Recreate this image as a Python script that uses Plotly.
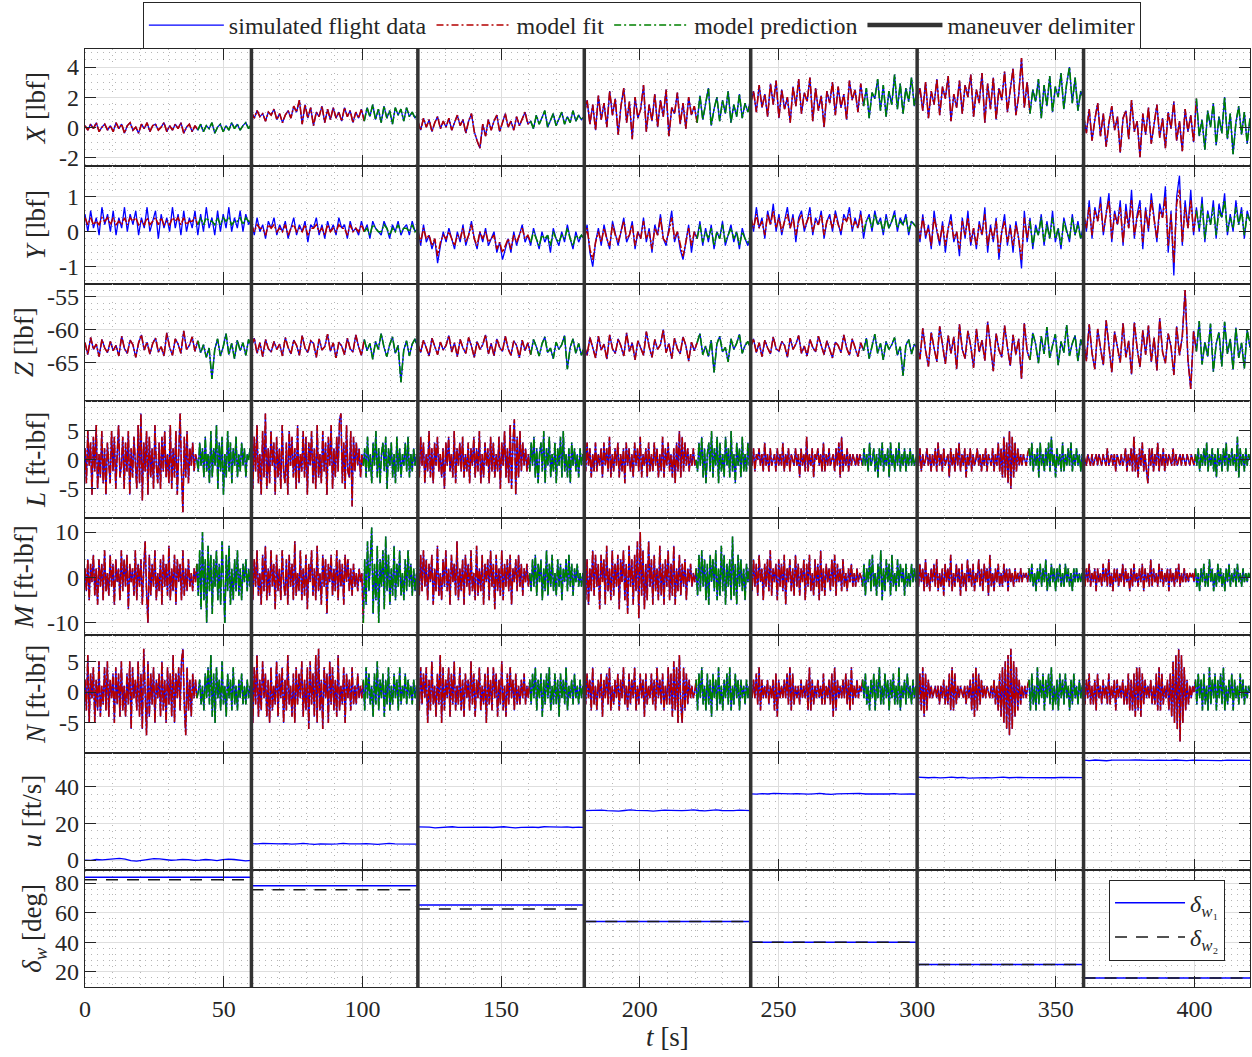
import numpy as np
import plotly.graph_objects as go
from plotly.subplots import make_subplots

# ---------------------------------------------------------------------------
# Maneuver layout: seven 60 s maneuvers, first 40 s of each used for the fit,
# the remaining 20 s used to check the model prediction.
# ---------------------------------------------------------------------------
seg_edges = [0, 60, 120, 180, 240, 300, 360, 420]
fit_span = 40.0

# Forces [lbf] per maneuver, 1 s samples
X_data = [
    [0.1, -0.2, 0.2, -0.1, 0.3, -0.3, 0.0, 0.2, -0.2, 0.1, -0.3, 0.3, -0.1, 0.2, -0.4, 0.1, 0.3, -0.2, 0.0, -0.4, 0.2, -0.1, 0.3, -0.3, 0.1, 0.2, -0.2, 0.0, 0.3, -0.3, 0.1, -0.2, 0.2, -0.1, 0.3, -0.4, 0.0, 0.2, -0.3, 0.1, -0.2, 0.2, -0.3, 0.1, -0.1, 0.3, -0.4, 0.0, 0.2, -0.3, 0.1, -0.2, 0.3, -0.1, 0.2, -0.2, 0.1, 0.3, -0.1, 0.2],
    [1.0, 0.6, 1.1, 0.7, 0.9, 0.4, 1.0, 0.8, 1.2, 0.5, 0.9, 0.3, 0.8, 1.1, 0.6, 1.4, 1.0, 1.8, 0.2, 1.5, 0.6, 1.3, 0.1, 1.0, 0.7, 1.4, 0.3, 1.2, 0.5, 1.3, 0.6, 1.0, 0.4, 1.3, 0.7, 1.1, 0.3, 1.0, 0.6, 1.2, 0.4, 1.3, 0.7, 1.5, 0.5, 1.2, 0.3, 1.4, 0.6, 1.1, 0.2, 1.3, 0.8, 1.2, 0.4, 1.3, 0.7, 1.0, 0.6, 0.9],
    [0.4, -0.2, 0.6, 0.0, 0.5, -0.3, 0.3, 0.7, -0.1, 0.4, 0.0, 0.6, -0.2, 0.3, 0.8, 0.1, 0.5, -0.4, 0.4, 0.9, -0.3, -0.9, -1.4, 0.2, -0.6, 0.5, -0.2, 0.4, 0.8, -0.3, 0.3, 0.9, 0.0, 0.4, -0.2, 0.7, 0.1, 0.5, 1.0, 0.2, 0.4, -0.1, 0.8, 0.2, 0.6, 1.1, 0.0, 0.5, 0.9, 0.1, 0.6, 1.0, 0.2, 0.7, 0.3, 1.1, 0.4, 0.8, 0.5, 0.7],
    [0.9, 1.8, 0.2, 1.5, -0.2, 2.1, 0.5, 1.6, 0.0, 2.4, 0.8, 1.9, -0.5, 1.4, 2.6, 0.3, 1.7, -0.8, 2.0, 0.6, 1.2, 2.8, -0.3, 1.5, 0.4, 2.2, 0.0, 1.8, 0.7, 2.5, -0.6, 1.3, 0.9, 2.3, 0.2, 1.6, -0.1, 2.0, 0.8, 1.4, 0.3, 2.1, 0.5, 1.7, 2.6, 0.1, 1.2, 2.0, 0.4, 1.8, 0.9, 2.4, 0.3, 1.5, 0.7, 2.2, 0.6, 1.6, 1.0, 1.9],
    [1.6, 2.4, 1.0, 2.8, 1.3, 2.2, 0.7, 2.9, 1.5, 3.1, 0.6, 2.5, 1.2, 2.0, 0.3, 2.7, 1.4, 3.2, 0.9, 2.3, 1.7, 3.3, 0.4, 2.6, 1.1, 2.1, 0.0, 2.4, 1.6, 3.0, 0.8, 2.7, 1.3, 2.2, 0.5, 3.1, 1.8, 2.5, 1.0, 2.9, 1.4, 2.6, 0.6, 2.3, 1.9, 3.2, 1.1, 2.8, 0.7, 2.4, 1.5, 3.5, 1.2, 2.9, 0.9, 2.6, 1.7, 3.3, 1.4, 2.5],
    [1.8, 2.6, 1.1, 3.0, 0.6, 2.4, 1.5, 3.2, 0.8, 2.7, 1.9, 3.4, 0.4, 2.2, 1.3, 3.1, 0.9, 2.8, 2.0, 3.5, 0.7, 2.5, 1.6, 3.6, 0.3, 2.9, 1.2, 3.3, 0.5, 2.6, 1.8, 3.7, 1.0, 2.4, 3.9, 0.8, 2.1, 4.6, 1.3, 3.0, 0.9, 2.5, 1.7, 3.2, 0.6, 2.8, 1.4, 3.4, 1.0, 2.7, 2.0, 3.6, 1.2, 2.9, 4.0, 1.6, 3.3, 1.1, 2.4, 1.9],
    [0.8, -0.4, 1.2, -0.9, 0.5, 1.6, -0.6, 0.9, -1.3, 0.3, 1.4, -0.2, 0.7, -1.7, 0.6, 1.1, -0.8, 1.8, -0.3, 0.4, -2.0, 0.9, -0.5, 1.3, -1.1, 0.2, 1.5, -0.7, 0.6, -1.4, 1.0, -0.1, 1.7, -0.9, 0.4, -1.6, 1.2, -0.3, 0.8, -1.0, 1.9, -0.6, 0.5, -1.5, 1.1, 0.0, 1.6, -1.2, 0.7, -0.4, 2.0, -0.8, 0.9, -1.8, 0.3, 1.4, -0.5, 1.0, -1.1, 0.6],
]

Y_data = [
    [0.5, 0.0, 0.6, 0.1, 0.4, -0.1, 0.7, 0.2, 0.5, 0.0, 0.6, -0.1, 0.4, 0.1, 0.7, 0.0, 0.5, 0.2, 0.6, -0.1, 0.4, 0.1, 0.7, 0.0, 0.3, 0.6, -0.2, 0.5, 0.1, 0.4, 0.0, 0.7, 0.1, 0.5, -0.1, 0.6, 0.0, 0.4, 0.1, 0.6, -0.1, 0.5, 0.0, 0.7, 0.1, 0.4, -0.1, 0.6, 0.0, 0.5, 0.1, 0.7, 0.0, 0.4, 0.1, 0.6, 0.0, 0.5, 0.2, 0.4],
    [0.3, -0.1, 0.4, 0.0, 0.2, -0.2, 0.3, 0.1, 0.4, -0.1, 0.2, 0.0, 0.3, -0.2, 0.1, 0.4, -0.1, 0.2, 0.0, 0.3, -0.3, 0.2, 0.1, 0.4, -0.1, 0.2, -0.2, 0.3, 0.0, 0.2, -0.1, 0.4, 0.1, 0.2, -0.2, 0.3, 0.0, 0.1, -0.1, 0.3, 0.0, 0.2, -0.2, 0.3, 0.1, 0.0, -0.1, 0.3, 0.1, -0.2, 0.2, 0.0, 0.3, -0.1, 0.1, 0.2, -0.1, 0.3, 0.0, 0.1],
    [0.1, -0.4, 0.2, -0.3, -0.1, -0.5, -0.2, -0.9, -0.4, 0.0, -0.3, 0.1, -0.2, -0.5, 0.0, -0.3, 0.2, -0.4, -0.1, 0.3, -0.2, -0.5, 0.0, -0.3, 0.1, -0.4, -0.2, 0.0, -0.6, -0.3, -0.8, -0.5, -0.2, -0.6, 0.0, -0.4, -0.1, 0.2, -0.3, -0.1, -0.4, 0.1, -0.2, -0.5, 0.0, -0.3, -0.1, -0.6, 0.1, -0.2, -0.4, 0.0, -0.3, 0.2, -0.2, -0.5, 0.0, -0.3, -0.1, -0.2],
    [-0.2, 0.2, -0.6, -1.0, -0.3, 0.1, -0.4, 0.2, -0.2, -0.5, 0.3, -0.1, -0.4, 0.0, 0.4, -0.3, -0.1, 0.3, -0.5, 0.0, -0.2, 0.4, -0.3, 0.1, -0.6, 0.2, -0.1, 0.5, -0.2, -0.4, 0.1, 0.6, -0.3, 0.0, -0.5, -0.8, -0.3, 0.2, -0.6, 0.0, -0.2, 0.3, -0.4, 0.1, -0.3, 0.2, -0.5, 0.0, -0.2, 0.3, -0.4, -0.1, 0.2, -0.3, 0.0, -0.5, 0.1, -0.2, -0.4, -0.1],
    [0.5, 0.0, 0.7, 0.1, 0.4, -0.2, 0.6, 0.2, 0.8, 0.0, 0.5, -0.1, 0.3, 0.7, 0.1, 0.5, -0.3, 0.4, 0.6, 0.0, 0.3, 0.7, -0.1, 0.4, 0.2, 0.6, -0.2, 0.3, 0.5, 0.0, 0.6, 0.2, -0.1, 0.5, 0.3, 0.7, 0.0, 0.4, 0.1, 0.6, -0.2, 0.3, 0.5, 0.0, 0.6, 0.2, 0.4, -0.1, 0.5, 0.1, 0.3, 0.6, 0.0, 0.4, 0.2, 0.5, -0.1, 0.3, 0.2, 0.1],
    [0.4, -0.3, 0.5, -0.2, 0.2, -0.5, 0.6, 0.0, -0.4, 0.3, -0.6, 0.1, 0.5, -0.3, 0.0, -0.7, 0.4, -0.2, 0.6, -0.4, 0.1, -0.5, 0.3, -0.1, 0.7, -0.6, 0.2, -0.3, 0.4, -0.8, 0.0, 0.5, -0.4, 0.2, -0.6, 0.3, -0.2, -1.05, 0.6, -0.3, 0.4, -0.5, 0.2, -0.1, 0.5, -0.4, 0.3, -0.2, 0.6, -0.3, 0.1, -0.5, 0.4, 0.0, -0.3, 0.5, -0.1, 0.3, -0.2, 0.2],
    [0.6, 0.0, 0.9, -0.2, 0.7, 0.3, 1.0, -0.1, 0.5, 1.1, -0.3, 0.6, 0.2, 0.9, -0.4, 0.8, 0.1, 1.2, -0.2, 0.5, 0.9, -0.5, 0.7, 0.0, 1.1, 0.3, -0.3, 0.8, 0.4, 1.3, -0.6, 0.6, -1.25, 1.0, 1.6, -0.4, 0.9, 0.1, 1.2, -0.1, 0.7, 0.0, 1.0, -0.3, 0.6, 0.2, 0.9, -0.2, 0.8, 0.4, 1.1, -0.1, 0.5, 0.0, 0.9, 0.2, 0.7, -0.2, 0.6, 0.3],
]

# Side-force model output (smaller excursions than the measured record)
Y_model = [
    [0.4, 0.2, 0.4, 0.2, 0.3, 0.2, 0.4, 0.3, 0.4, 0.2, 0.4, 0.2, 0.3, 0.2, 0.4, 0.2, 0.4, 0.3, 0.4, 0.2, 0.3, 0.2, 0.4, 0.2, 0.3, 0.4, 0.2, 0.4, 0.2, 0.3, 0.2, 0.4, 0.3, 0.4, 0.2, 0.4, 0.2, 0.3, 0.3, 0.4, 0.2, 0.4, 0.2, 0.4, 0.3, 0.3, 0.2, 0.4, 0.2, 0.4, 0.3, 0.4, 0.2, 0.3, 0.3, 0.4, 0.2, 0.4, 0.3, 0.3],
    [0.2, 0.0, 0.2, 0.1, 0.1, -0.1, 0.2, 0.1, 0.2, 0.0, 0.1, 0.0, 0.2, -0.1, 0.1, 0.2, 0.0, 0.1, 0.0, 0.2, -0.1, 0.1, 0.1, 0.2, 0.0, 0.1, -0.1, 0.2, 0.0, 0.1, 0.0, 0.2, 0.1, 0.1, -0.1, 0.2, 0.0, 0.1, 0.0, 0.2, 0.0, 0.1, -0.1, 0.2, 0.1, 0.0, 0.0, 0.2, 0.1, -0.1, 0.1, 0.0, 0.2, 0.0, 0.1, 0.1, 0.0, 0.2, 0.0, 0.1],
    [0.0, -0.3, 0.1, -0.2, -0.1, -0.4, -0.2, -0.7, -0.3, -0.1, -0.2, 0.0, -0.2, -0.4, -0.1, -0.2, 0.1, -0.3, -0.1, 0.2, -0.2, -0.4, 0.0, -0.2, 0.0, -0.3, -0.2, -0.1, -0.5, -0.3, -0.6, -0.4, -0.2, -0.5, -0.1, -0.3, -0.1, 0.1, -0.2, -0.1, -0.3, 0.0, -0.2, -0.4, -0.1, -0.2, -0.1, -0.4, 0.0, -0.2, -0.3, -0.1, -0.2, 0.1, -0.2, -0.4, -0.1, -0.2, -0.1, -0.2],
    [-0.2, 0.1, -0.5, -0.8, -0.3, 0.0, -0.3, 0.1, -0.2, -0.4, 0.2, -0.1, -0.3, 0.0, 0.3, -0.2, -0.1, 0.2, -0.4, 0.0, -0.2, 0.3, -0.2, 0.0, -0.5, 0.1, -0.1, 0.4, -0.2, -0.3, 0.0, 0.4, -0.2, 0.0, -0.4, -0.7, -0.3, 0.1, -0.4, 0.0, -0.2, 0.2, -0.3, 0.0, -0.2, 0.1, -0.4, 0.0, -0.2, 0.2, -0.3, -0.1, 0.1, -0.2, 0.0, -0.4, 0.0, -0.2, -0.3, -0.1],
    [0.4, 0.1, 0.5, 0.1, 0.3, -0.1, 0.5, 0.2, 0.6, 0.1, 0.4, 0.0, 0.3, 0.5, 0.1, 0.4, -0.1, 0.3, 0.5, 0.1, 0.3, 0.5, 0.0, 0.3, 0.2, 0.5, -0.1, 0.3, 0.4, 0.1, 0.5, 0.2, 0.0, 0.4, 0.3, 0.5, 0.1, 0.3, 0.1, 0.5, 0.0, 0.3, 0.4, 0.1, 0.5, 0.2, 0.3, 0.0, 0.4, 0.1, 0.3, 0.5, 0.1, 0.3, 0.2, 0.4, 0.0, 0.3, 0.2, 0.1],
    [0.3, -0.2, 0.4, -0.1, 0.1, -0.4, 0.4, 0.0, -0.3, 0.2, -0.4, 0.1, 0.3, -0.2, 0.0, -0.5, 0.3, -0.1, 0.4, -0.3, 0.1, -0.4, 0.2, -0.1, 0.5, -0.4, 0.1, -0.2, 0.3, -0.6, 0.0, 0.3, -0.3, 0.1, -0.4, 0.2, -0.2, -0.8, 0.4, -0.2, 0.3, -0.4, 0.1, -0.1, 0.4, -0.3, 0.2, -0.2, 0.4, -0.2, 0.1, -0.4, 0.3, 0.0, -0.2, 0.4, -0.1, 0.2, -0.2, 0.1],
    [0.5, 0.1, 0.7, -0.1, 0.6, 0.3, 0.8, 0.0, 0.5, 0.9, -0.2, 0.5, 0.2, 0.7, -0.3, 0.6, 0.1, 0.9, -0.1, 0.4, 0.7, -0.3, 0.6, 0.1, 0.9, 0.3, -0.2, 0.6, 0.4, 1.0, -0.4, 0.5, -0.9, 0.8, 1.2, -0.3, 0.7, 0.1, 0.9, 0.0, 0.6, 0.1, 0.8, -0.2, 0.5, 0.2, 0.7, -0.1, 0.6, 0.4, 0.9, 0.0, 0.4, 0.1, 0.7, 0.2, 0.6, -0.1, 0.5, 0.3],
]

Z_data = [
    [-62.0, -63.8, -61.2, -63.0, -62.2, -64.1, -61.5, -62.8, -63.5, -61.8, -63.2, -62.4, -64.0, -61.0, -62.9, -63.6, -61.6, -62.3, -64.2, -62.0, -60.8, -63.1, -61.9, -63.7, -62.1, -61.3, -63.4, -62.6, -64.0, -60.5, -62.7, -63.9, -61.4, -62.2, -63.6, -60.2, -63.0, -62.4, -61.1, -63.3, -61.7, -63.5, -62.3, -64.2, -62.8, -67.5, -63.0, -61.4, -64.0, -62.6, -60.6, -63.8, -62.1, -64.4, -61.6, -63.2, -62.0, -63.9, -61.5, -62.7],
    [-62.5, -61.3, -63.6, -62.0, -64.1, -61.5, -62.9, -63.4, -61.8, -63.0, -62.2, -64.0, -61.2, -62.7, -63.7, -61.6, -62.4, -63.9, -60.9, -62.8, -63.5, -61.7, -62.1, -64.2, -61.4, -63.1, -62.6, -60.7, -63.3, -62.0, -64.3, -61.9, -62.5, -63.8, -61.3, -62.9, -63.4, -60.8, -62.6, -63.9, -61.5, -63.2, -62.1, -64.5, -61.8, -63.0, -60.6, -62.7, -64.1, -62.3, -61.1, -63.6, -62.4, -68.0, -63.1, -61.7, -64.0, -62.2, -61.4, -62.9],
    [-62.2, -63.5, -61.6, -62.9, -64.0, -61.3, -62.6, -63.8, -61.9, -63.1, -62.4, -60.9, -63.4, -62.0, -64.1, -61.5, -62.8, -63.6, -61.2, -62.5, -64.2, -61.8, -63.0, -62.3, -60.8, -63.7, -62.1, -64.0, -61.4, -62.7, -63.3, -61.0, -62.9, -63.9, -61.7, -62.4, -64.3, -61.6, -63.2, -62.0, -63.8, -61.5, -62.6, -64.0, -62.2, -61.1, -63.5, -62.8, -64.4, -61.9, -63.0, -62.3, -60.9, -66.0, -62.7, -61.4, -63.6, -62.1, -63.9, -62.5],
    [-62.4, -63.9, -61.2, -62.7, -64.3, -61.0, -63.1, -62.2, -64.5, -60.8, -62.9, -63.6, -61.4, -62.5, -64.0, -60.5, -63.3, -62.0, -64.6, -61.7, -62.8, -63.9, -60.3, -62.6, -64.2, -61.5, -63.0, -62.3, -60.0, -63.5, -62.1, -64.4, -61.3, -62.9, -63.7, -61.1, -62.4, -64.8, -61.9, -63.2, -62.0, -60.6, -63.8, -62.5, -64.1, -61.6, -66.5, -62.2, -61.0, -63.4, -62.7, -64.9, -61.4, -63.0, -62.1, -60.7, -63.6, -62.4, -61.8, -62.9],
    [-62.6, -61.4, -63.5, -62.0, -64.1, -61.6, -62.8, -63.7, -61.1, -62.9, -63.3, -61.8, -62.4, -64.2, -61.3, -63.0, -62.2, -60.9, -63.6, -62.5, -64.0, -61.5, -62.7, -63.4, -61.0, -62.3, -63.8, -61.7, -62.9, -64.3, -61.9, -62.4, -63.5, -60.8, -62.8, -63.9, -61.4, -62.6, -64.1, -62.0, -63.2, -61.3, -64.4, -62.5, -60.7, -63.6, -62.1, -64.6, -61.8, -63.0, -62.3, -61.2, -63.9, -62.6, -67.0, -62.4, -61.5, -63.7, -62.2, -62.8],
    [-62.0, -64.5, -59.8, -63.2, -65.6, -60.4, -62.8, -64.9, -59.5, -62.3, -65.2, -60.9, -63.6, -61.1, -66.0, -59.2, -63.0, -64.4, -60.2, -62.5, -65.8, -59.9, -63.4, -61.6, -64.7, -58.8, -62.9, -66.3, -60.6, -63.1, -64.2, -59.4, -62.6, -65.5, -60.8, -63.8, -61.4, -67.5, -59.0, -63.3, -64.6, -60.5, -62.2, -65.1, -61.0, -63.7, -59.6, -64.3, -62.4, -60.7, -65.4, -61.8, -63.5, -59.3, -64.0, -62.1, -60.9, -64.8, -61.5, -63.0],
    [-61.5, -64.8, -59.2, -63.6, -66.0, -59.9, -62.8, -65.4, -58.6, -63.1, -66.5, -60.3, -62.4, -65.0, -59.0, -64.2, -61.7, -66.8, -58.9, -62.9, -65.7, -60.1, -63.8, -59.4, -64.9, -61.2, -66.2, -58.3, -63.4, -65.1, -60.6, -62.6, -66.9, -59.5, -63.9, -61.0, -54.0, -64.6, -69.0, -60.2, -63.3, -58.7, -65.3, -61.9, -64.1, -59.1, -66.4, -62.2, -60.4, -65.6, -58.8, -63.7, -61.4, -66.1, -59.7, -64.3, -62.0, -65.9, -60.0, -62.7],
]

# Moments [ft-lbf] per maneuver, 0.5 s samples
L_data = [
    [2, -4, 5, -1, 3, -6, 4, -2, 6, -5, 1, -3, 5, -4, 2, -6, 3, 0, -4, 5, -2, 4, -5, 1, 6, -3, -1, 4, -5, 3, -2, 5, -6, 2, -3, 4, -1, -5, 6, -4, 8, -7, 3, -2, 5, -6, 4, -3, 2, -5, 6, -1, -4, 3, -5, 4, -2, 5, -3, 1, -4, 6, -5, 2, -3, 5, -6, 3, 8, -2, -9, 4, -3, 5, -4, 2, -1, 3, -2, 1,
     0, -2, 3, -1, 2, -3, 4, -2, 1, -4, 5, -3, 2, -1, 6, -5, 3, -2, 4, -6, 1, -3, 5, -2, 3, -4, 2, -1, 4, -3, 1, -2, 3, -1, 2, -3, 1, 0, 2, -1],
    [3, -5, 4, -2, 6, -4, 1, -6, 5, -3, 8, -5, 2, -4, 5, -1, 3, -6, 4, -3, 2, -5, 6, -2, -4, 3, -6, 5, -1, 4, -3, 2, -5, 6, -4, 1, -2, 5, -3, 4, -6, 3, -1, 5, -4, 2, -5, 6, -3, 1, -4, 5, -2, 3, -6, 4, -1, 6, -5, 2, -3, 4, -2, 7, 8, -4, 3, -5, 6, -2, -3, 5, -8, 4, -2, 3, -1, 2, -3, 1,
     -1, 2, -3, 4, -2, 1, -4, 3, -1, 5, -3, 2, -4, 1, 3, -2, 4, -5, 2, -1, 3, -3, 1, -4, 4, -2, 2, -3, 1, -1, 3, -2, 4, -3, 1, -2, 2, -1, 1, 0],
    [2, -3, 4, -1, 3, -4, 1, -2, 5, -3, 2, -4, 3, -1, 4, -2, 1, -3, 2, -5, 3, -1, 4, -2, 1, -3, 5, -4, 2, -1, 3, -2, 4, -3, 1, -2, 3, -4, 2, -1, 4, -3, 2, -2, 5, -4, 1, -3, 3, -1, 2, -4, 4, -2, 3, -3, 1, -2, 4, -5, 3, -1, 5, -3, 2, -4, 6, -5, 3, 7, -6, 4, -3, 5, -2, 3, -1, 2, -2, 1,
     -2, 3, -1, 4, -3, 2, -4, 1, 3, -2, 5, -4, 2, -1, 4, -3, 1, -2, 3, -4, 2, -1, 4, -3, 5, -2, 1, -3, 2, -4, 3, -1, 2, -2, 1, -3, 2, -1, 1, 0],
    [1, -2, 3, -1, 2, -3, 1, -2, 3, -2, 1, -1, 2, -3, 3, -1, 2, -2, 4, -3, 1, -2, 2, -1, 3, -3, 1, -2, 2, -4, 3, -1, 2, -2, 1, -3, 3, -1, 2, -2, 4, -3, 1, -1, 2, -3, 3, -2, 1, -2, 3, -1, 2, -3, 1, -2, 4, -3, 2, -1, 3, -2, 1, -3, 2, -4, 3, -2, 5, -3, 4, -2, 3, -1, 2, -2, 1, -1, 2, -1,
     0, -2, 3, -1, 4, -3, 2, -4, 1, 3, -2, 5, -3, 2, -1, 4, -4, 3, -2, 1, -3, 4, -1, 2, -3, 5, -2, 1, -4, 3, -1, 2, -3, 4, -2, 1, -2, 3, -1, 1],
    [1, -1, 2, -2, 1, 0, 2, -1, 1, -2, 3, -1, 1, -2, 2, -1, 0, 1, -2, 2, -1, 1, -1, 3, -2, 1, -1, 2, -2, 1, 0, -1, 2, -1, 1, -3, 2, -1, 1, -2, 4, -2, 1, -1, 2, -3, 1, 0, 2, -1, 1, -2, 3, -2, 1, -1, 2, -1, 0, 1, -2, 2, -1, 3, -3, 4, -2, 1, -1, 2, -2, 1, -1, 1, 0, -1, 1, -1, 1, 0,
     -1, 2, -1, 1, -2, 3, -1, 0, 2, -2, 1, -3, 2, -1, 3, -2, 1, -1, 2, -3, 3, -1, 1, -2, 2, -1, 3, -2, 1, -1, 2, -2, 1, -1, 2, -1, 1, -1, 0, 1],
    [1, -1, 2, -2, 1, -1, 0, 2, -1, 1, -2, 1, -1, 2, -2, 3, -1, 1, -2, 2, -1, 0, 1, -3, 2, -1, 1, -2, 2, -1, 3, -2, 1, -1, 2, -3, 1, -1, 2, -2, 1, -1, 0, 2, -1, 1, -2, 1, -1, 2, -2, 1, 0, -1, 2, -2, 1, -1, 3, -2, 2, -3, 4, -3, 3, -4, 5, -5, 4, -3, 3, -2, 2, -1, 1, -1, 1, 0, -1, 1,
     2, -1, 3, -2, 1, -1, 2, -3, 3, -1, 1, -2, 2, -1, 3, -2, 4, -1, 1, -3, 2, -1, 1, -2, 3, -2, 1, -1, 2, -1, 3, -2, 1, -1, 2, -1, 1, -2, 1, 0],
    [1, 0, -1, 1, 0, -1, 1, -1, 0, 1, -1, 1, 0, -1, 1, 0, -1, 2, -1, 0, 1, -1, 1, -2, 1, 0, -1, 1, -1, 0, 2, -2, 1, -1, 2, -2, 4, -2, 1, -3, 2, -1, 3, -2, 1, -2, -4, 2, -1, 2, -2, 1, -1, 3, -2, 1, -1, 2, -2, 1, -1, 1, 0, -1, 2, -1, 1, -1, 0, 1, -1, 1, 0, -1, 1, 0, -1, 1, 0, -1,
     1, -1, 2, -2, 1, -1, 2, -1, 3, -2, 1, -1, 2, -2, 1, -3, 2, -1, 1, -2, 2, -1, 3, -2, 1, -1, 2, -1, 1, -2, 4, -3, 2, -1, 1, -2, 2, -1, 1, 0],
]

M_data = [
    [2, -3, 4, -5, 3, -1, 5, -4, 2, -6, 4, -2, 3, -5, 6, -3, 1, -4, 5, -2, 3, -6, 4, -1, 2, -5, 6, -3, 4, -2, 5, -7, 3, -1, 2, -4, 6, -5, 3, -2, 4, -6, 2, 8, -3, -10, 5, -4, 3, -2, 6, -5, 1, -3, 4, -6, 5, -2, 3, -4, 7, -5, 2, -3, 5, -6, 4, -1, 3, -5, 6, -4, 2, -3, 4, -2, 1, -3, 2, -1,
     3, -4, 6, -7, 10, -5, 4, -10, 7, -3, 5, -8, 4, -2, 6, -5, 3, -6, 8, -4, -10, 5, -3, 7, -6, 2, -5, 4, -3, 6, -4, 2, -5, 3, -1, 4, -3, 2, -2, 1],
    [3, -5, 4, -2, 6, -4, 1, -6, 5, -3, 7, -5, 2, -4, 6, -2, 3, -7, 5, -3, 2, -5, 6, -1, -4, 4, -6, 5, -2, 3, -5, 8, -4, 1, -3, 6, -5, 2, -4, 5, -7, 3, -1, 6, -4, 2, -5, 7, -3, 1, -6, 5, -2, 4, -8, 3, -1, 5, -4, 2, -3, 6, -5, 4, -2, 3, -6, 5, -1, 4, -3, 2, -4, 3, -2, 1, -3, 2, -1, 1,
     -10, 4, -6, 8, -3, 5, 11, -8, 3, -5, 7, -10, 4, -2, 6, -7, 9, -3, 5, -6, 2, -4, 7, -5, 3, -2, 6, -4, 1, -5, 4, -3, 6, -2, 3, -4, 2, -3, 1, 0],
    [2, -4, 5, -3, 6, -2, 4, -5, 3, -1, 5, -6, 2, -3, 7, -4, 1, -5, 4, -2, 6, -3, 2, -6, 5, -1, 3, -4, 8, -5, 2, -3, 4, -6, 5, -2, 3, -4, 6, -3, 1, -5, 7, -4, 2, -3, 5, -6, 3, -1, 4, -5, 6, -2, 3, -7, 5, -3, 2, -4, 6, -5, 3, -2, 4, -3, 5, -6, 2, -1, 4, -3, 5, -2, 3, -4, 2, -1, 3, -2,
     1, -3, 4, -2, 5, -4, 3, -1, 4, -5, 2, -3, 6, -4, 3, -2, 5, -3, 1, -4, 4, -2, 3, -5, 2, -1, 4, -3, 5, -2, 3, -4, 2, -1, 3, -2, 1, -2, 1, 0],
    [3, -5, 4, -6, 2, -3, 6, -4, 5, -2, 3, -7, 5, -1, 4, -6, 7, -3, 2, -5, 6, -4, 3, -2, 5, -7, 4, -1, 6, -5, 3, -8, 7, -2, 4, -6, 5, -3, 8, -9, 10, -4, 6, -7, 3, -5, 8, -2, 4, -6, 5, -3, 2, -5, 7, -4, 3, -6, 4, -2, 6, -5, 3, -4, 7, -6, 2, -3, 5, -4, 3, -2, 4, -5, 2, -1, 3, -2, 1, -1,
     2, -4, 5, -3, 6, -2, 4, -5, 3, -6, 5, -1, 4, -3, 6, -5, 2, -4, 7, -3, 5, -6, 3, -2, 4, -5, 9, -4, 3, -6, 5, -2, 4, -3, 2, -5, 3, -1, 2, 0],
    [2, -3, 4, -2, 3, -4, 5, -1, 2, -5, 3, -2, 4, -3, 6, -4, 2, -1, 3, -5, 4, -2, 3, -3, 5, -6, 2, -1, 4, -3, 2, -4, 5, -2, 3, -4, 2, -1, 4, -5, 3, -2, 5, -3, 1, -4, 4, -2, 3, -5, 6, -3, 2, -4, 3, -1, 2, -3, 4, -2, 5, -4, 3, -1, 2, -3, 4, -2, 1, -3, 2, -1, 3, -2, 1, -2, 2, -1, 1, 0,
     -2, 3, -4, 2, -1, 4, -3, 5, -2, 1, -4, 3, -2, 6, -5, 2, -3, 4, -1, 3, -4, 5, -2, 1, -3, 4, -2, 3, -1, 2, -4, 3, -2, 1, -2, 3, -1, 2, -1, 0],
    [1, -2, 3, -1, 2, -3, 4, -2, 1, -3, 2, -1, 3, -2, 4, -3, 1, -2, 2, -4, 3, -1, 2, -2, 5, -3, 1, -2, 3, -1, 2, -4, 3, -2, 1, -3, 4, -1, 2, -2, 3, -3, 1, -1, 4, -2, 2, -3, 3, -1, 2, -4, 5, -2, 1, -3, 2, -1, 3, -2, 1, -2, 3, -1, 2, -3, 2, -1, 1, -2, 2, -1, 1, -1, 2, -1, 1, 0, 1, -1,
     2, -1, 3, -2, 1, -3, 2, -1, 3, -2, 2, -1, 4, -3, 1, -2, 3, -1, 2, -3, 2, -1, 3, -2, 1, -2, 3, -1, 2, -2, 1, -3, 2, -1, 2, -1, 1, -1, 1, 0],
    [1, -2, 2, -1, 3, -2, 1, -1, 2, -3, 2, -1, 1, -2, 3, -1, 2, -2, 4, -2, 1, -3, 2, -1, 2, -2, 1, -1, 3, -2, 2, -1, 1, -3, 2, -2, 3, -1, 1, -2, 2, -1, 3, -3, 2, -1, 1, -2, 4, -2, 2, -1, 1, -2, 3, -1, 2, -2, 1, -1, 2, -3, 2, -1, 1, -2, 2, -1, 3, -2, 1, -1, 2, -1, 1, -1, 1, 0, 1, -1,
     2, -2, 1, -3, 2, -1, 3, -2, 1, -2, 4, -1, 2, -3, 1, -2, 3, -1, 2, -2, 1, -3, 2, -1, 3, -2, 1, -1, 2, -2, 3, -1, 1, -2, 2, -1, 1, -1, 1, 0],
]

N_data = [
    [2, -3, 6, -5, 3, -1, 4, -5, 2, -3, 5, -4, 1, -2, 4, -3, 5, -4, 2, -1, 3, -5, 4, -2, 3, -4, 5, -3, 1, -4, 3, -2, 5, -6, 4, -1, 2, -3, 5, -4, 3, -6, 7, -2, -7, 5, -4, 3, -2, 4, -5, 2, -1, 3, -4, 5, -3, 2, -5, 4, -2, 3, -4, 6, -5, 3, -1, 4, -3, 5, 7, -2, -7, 4, -3, 2, -4, 3, -1, 2,
     -1, 0, 2, -2, 1, -3, 3, -1, 4, -2, 6, -4, 3, -5, 4, -1, 2, -3, 5, -2, 1, -4, 3, -1, 2, -3, 4, -2, 1, -3, 2, -1, 3, -2, 1, -2, 2, -1, 1, 0],
    [3, -5, 4, -2, 6, -4, 2, -3, 5, -1, 3, -4, 2, -5, 4, -3, 1, -2, 5, -4, 3, -1, 4, -5, 2, -3, 6, -2, 1, -4, 3, -5, 4, -2, 3, -1, 5, -4, 2, -3, 4, -6, 5, -2, 3, -4, 6, -5, 7, -3, 2, -6, 4, -1, 3, -5, 5, -2, 4, -3, 2, -4, 6, -3, 1, -2, 4, -5, 3, -1, 2, -3, 4, -2, 1, -2, 3, -1, 1, -1,
     2, -3, 4, -1, 3, -2, 1, -4, 3, -2, 5, -3, 2, -1, 3, -4, 2, -2, 4, -3, 1, -2, 3, -1, 2, -3, 4, -2, 1, -1, 3, -2, 2, -1, 1, -2, 2, -1, 1, 0],
    [2, -3, 4, -2, 3, -1, 4, -5, 2, -3, 5, -2, 1, -4, 3, -2, 6, -5, 4, -3, 2, -1, 4, -4, 3, -2, 5, -3, 1, -2, 4, -3, 2, -4, 3, -1, 2, -3, 5, -2, 3, -4, 2, -1, 4, -3, 1, -2, 3, -5, 4, -2, 2, -3, 4, -1, 3, -4, 2, -2, 5, -3, 1, -4, 3, -2, 4, -1, 2, -3, 3, -2, 1, -2, 2, -1, 3, -2, 1, -1,
     2, -2, 3, -1, 4, -3, 2, -1, 3, -4, 2, -2, 3, -1, 4, -3, 1, -2, 3, -2, 2, -4, 3, -1, 2, -2, 4, -3, 1, -1, 2, -2, 3, -1, 1, -2, 2, -1, 1, 0],
    [1, -2, 3, -1, 2, -3, 4, -2, 1, -3, 2, -1, 3, -4, 2, -1, 3, -2, 4, -3, 1, -2, 2, -1, 3, -3, 2, -1, 4, -2, 1, -3, 3, -2, 2, -1, 4, -3, 1, -2, 3, -1, 2, -4, 3, -2, 1, -1, 3, -2, 2, -3, 4, -1, 2, -2, 3, -3, 1, -2, 4, -2, 3, -4, 5, -3, 4, -5, 6, -2, -5, 4, -3, 3, -2, 2, -1, 1, -1, 0,
     2, -3, 3, -1, 4, -2, 1, -3, 3, -2, 2, -4, 3, -1, 2, -3, 4, -2, 1, -3, 2, -1, 3, -2, 4, -3, 1, -2, 3, -1, 2, -3, 2, -1, 1, -2, 2, -1, 1, 0],
    [1, -1, 2, -1, 3, -2, 4, -3, 2, -1, 1, -1, 2, -2, 1, -1, 2, -3, 3, -4, 2, -1, 1, -1, 2, -1, 3, -2, 4, -3, 3, -2, 1, -1, 1, -2, 2, -1, 1, -1, 2, -3, 4, -3, 2, -2, 1, -1, 2, -1, 1, -2, 3, -2, 1, -1, 2, -2, 3, -4, 4, -3, 2, -1, 1, -1, 2, -1, 3, -2, 2, -3, 4, -2, 1, -1, 2, -1, 1, 0,
     2, -1, 3, -2, 1, -3, 2, -1, 3, -3, 2, -1, 4, -2, 1, -2, 3, -1, 2, -3, 2, -1, 3, -2, 1, -2, 4, -3, 1, -1, 2, -2, 3, -1, 1, -2, 2, -1, 1, 0],
    [1, -2, 3, -3, 4, -4, 3, -3, 2, -1, 1, -1, 0, 1, -1, 1, -2, 1, -1, 2, -2, 1, -2, 3, -3, 4, -3, 3, -2, 1, -1, 1, 0, -1, 1, -2, 1, -1, 2, -3, 3, -4, 4, -3, 3, -2, 2, -1, 1, -1, 1, 0, -1, 1, -1, 2, -2, 1, -3, 3, -4, 4, -5, 5, -6, 6, -7, 7, -6, 5, -4, 4, -3, 2, -2, 1, -1, 1, -1, 1,
     2, -3, 3, -2, 1, -3, 4, -2, 2, -1, 3, -3, 2, -1, 3, -2, 4, -3, 1, -2, 2, -3, 3, -1, 2, -2, 3, -1, 1, -3, 2, -2, 3, -1, 1, -2, 2, -1, 1, 0],
    [1, -2, 2, -1, 3, -2, 1, -2, 2, -3, 3, -1, 1, -2, 2, -1, 1, -2, 3, -2, 1, -1, 2, -3, 2, -1, 1, -1, 2, -2, 1, -2, 3, -3, 2, -3, 3, -4, 4, -3, 4, -4, 3, -2, 2, -1, 1, -1, 2, -2, 1, -2, 3, -3, 4, -3, 3, -2, 1, -1, 2, -3, 3, -4, 5, -5, 6, -6, 7, -8, 6, -5, 4, -3, 2, -2, 1, -1, 1, 0,
     2, -2, 3, -1, 2, -3, 3, -2, 1, -3, 4, -2, 2, -1, 3, -3, 2, -1, 3, -2, 4, -3, 1, -2, 2, -1, 3, -3, 2, -1, 1, -2, 3, -1, 2, -2, 1, -1, 1, 0],
]

# The identified model reproduces X, Z, L, M and N on top of the measured record
X_model = X_data
Z_model = Z_data
L_model = L_data
M_model = M_data
N_model = N_data

# Forward speed [ft/s] per maneuver, 2 s samples
u_data = [
    [0.0, -0.2, 0.3, 0.1, 0.4, 0.6, 0.9, 0.5, -0.3, -0.6, -0.1, 0.4, 0.8, 0.6, 0.2, -0.1, 0.1, 0.4, 0.2, -0.2, 0.0, 0.3, 0.1, -0.3, 0.2, 0.5, 0.3, -0.1, -0.4, -0.2],
    [9.0, 8.8, 9.1, 8.9, 8.6, 8.8, 9.0, 8.7, 8.9, 9.1, 8.8, 8.6, 8.9, 9.0, 8.7, 8.8, 9.1, 8.9, 8.7, 8.8, 9.0, 8.8, 8.6, 8.9, 9.1, 8.8, 8.7, 8.9, 8.8, 8.7],
    [18.1, 18.2, 18.0, 17.6, 17.8, 18.1, 18.2, 17.9, 18.0, 17.7, 17.9, 18.2, 18.0, 17.8, 18.1, 18.2, 17.9, 17.6, 17.9, 18.1, 18.0, 17.8, 18.2, 18.1, 17.9, 18.0, 18.1, 17.8, 18.0, 17.9],
    [27.0, 27.2, 27.1, 27.3, 27.0, 26.7, 26.8, 27.1, 27.4, 27.2, 27.3, 27.0, 26.8, 27.1, 27.3, 27.2, 26.9, 27.0, 27.2, 27.4, 27.1, 26.9, 27.2, 27.4, 27.1, 26.9, 27.0, 27.3, 27.2, 27.0],
    [36.2, 36.0, 36.3, 36.1, 36.4, 36.2, 36.0, 36.2, 36.3, 36.1, 36.0, 36.2, 36.4, 36.1, 35.9, 36.2, 36.3, 36.0, 36.2, 36.4, 36.1, 36.0, 36.3, 36.2, 36.1, 36.3, 36.0, 36.2, 36.1, 36.0],
    [45.3, 45.1, 45.0, 45.2, 44.9, 45.1, 45.3, 45.0, 45.2, 44.8, 45.0, 45.2, 45.1, 44.9, 45.1, 45.3, 45.0, 44.9, 45.2, 45.1, 45.0, 45.2, 44.9, 45.1, 45.0, 45.2, 45.1, 44.9, 45.0, 45.1],
    [54.6, 54.4, 54.7, 54.5, 54.3, 54.6, 54.5, 54.4, 54.6, 54.7, 54.5, 54.3, 54.5, 54.6, 54.4, 54.5, 54.7, 54.5, 54.4, 54.6, 54.5, 54.3, 54.6, 54.5, 54.4, 54.6, 54.5, 54.7, 54.4, 54.5],
]

# Wing angles [deg], held constant in each maneuver
dw1 = [83.9, 78.2, 65.2, 54.0, 40.0, 25.0, 15.8]
dw2 = [82.3, 75.5, 62.5, 54.0, 40.0, 25.0, 15.8]

# ---------------------------------------------------------------------------
BLUE = "#0000ff"
RED = "#b40000"
GREEN = "#008000"
DELIM = "#333333"
AX = "#262626"
GRID = "#dedede"
MINOR = "#b5b5b5"
FONT = "Liberation Serif"
DASHDOT = "8px,2px,2px,2px"
LEGEND_DASHDOT = "7px,3px,2px,3px"
MINOR_DASH = "1px,5px"


def stitch(seg_lists, part="all"):
    """Join per-maneuver samples into one gapped series."""
    xs, ys = [], []
    for k, vals in enumerate(seg_lists):
        t0, t1 = seg_edges[k], seg_edges[k + 1]
        t = np.linspace(t0, t1, len(vals))
        v = np.asarray(vals, dtype=float)
        i = int(np.searchsorted(t, t0 + fit_span))
        if part == "fit":
            t, v = t[: i + 1], v[: i + 1]
        elif part == "pred":
            t, v = t[i:], v[i:]
        xs.extend(t.tolist() + [np.nan])
        ys.extend(v.tolist() + [np.nan])
    return xs, ys


fig = make_subplots(rows=8, cols=1, shared_xaxes=True, vertical_spacing=0)

channels = [(X_data, X_model), (Y_data, Y_model), (Z_data, Z_model),
            (L_data, L_model), (M_data, M_model), (N_data, N_model)]

for r, (meas, model) in enumerate(channels, start=1):
    x, y = stitch(meas)
    fig.add_trace(go.Scatter(x=x, y=y, mode="lines", name="simulated flight data",
                             legendgroup="data", showlegend=False,
                             line=dict(color=BLUE, width=1.3)), row=r, col=1)
    x, y = stitch(model, "fit")
    fig.add_trace(go.Scatter(x=x, y=y, mode="lines", name="model fit",
                             legendgroup="fit", showlegend=False,
                             line=dict(color=RED, width=1.6, dash=DASHDOT)), row=r, col=1)
    x, y = stitch(model, "pred")
    fig.add_trace(go.Scatter(x=x, y=y, mode="lines", name="model prediction",
                             legendgroup="pred", showlegend=False,
                             line=dict(color=GREEN, width=1.6, dash=DASHDOT)), row=r, col=1)

# legend keys (line styles shown with a longer dash cycle)
legend_keys = [
    ("simulated flight data", "data", dict(color=BLUE, width=1.3)),
    ("model fit", "fit", dict(color=RED, width=1.5, dash=LEGEND_DASHDOT)),
    ("model prediction", "pred", dict(color=GREEN, width=1.5, dash=LEGEND_DASHDOT)),
    ("maneuver delimiter", "delim", dict(color=DELIM, width=4.5)),
]
for name, group, style in legend_keys:
    fig.add_trace(go.Scatter(x=[None], y=[None], mode="lines", name=name,
                             legendgroup=group, line=style), row=1, col=1)

x, y = stitch(u_data)
fig.add_trace(go.Scatter(x=x, y=y, mode="lines", showlegend=False,
                         line=dict(color=BLUE, width=1.3)), row=7, col=1)


# wing angle steps
def steps(levels):
    xs, ys = [], []
    for k, v in enumerate(levels):
        xs += [seg_edges[k], seg_edges[k + 1], np.nan]
        ys += [v, v, np.nan]
    return xs, ys


x, y = steps(dw1)
fig.add_trace(go.Scatter(x=x, y=y, mode="lines", name="<i>δ</i><sub><i>w</i>₁</sub>",
                         legend="legend2", line=dict(color=BLUE, width=1.5)), row=8, col=1)
x, y = steps(dw2)
fig.add_trace(go.Scatter(x=x, y=y, mode="lines", name="<i>δ</i><sub><i>w</i>₂</sub>",
                         legend="legend2", line=dict(color="#1a1a1a", width=1.5, dash="12px,9px")),
              row=8, col=1)

for e in seg_edges[1:-1]:
    fig.add_shape(type="line", xref="x", yref="paper", x0=e, x1=e, y0=0, y1=1,
                  line=dict(color=DELIM, width=3.5), layer="above")

panels = [
    ("<i>X</i> [lbf]", [-2.6, 5.2], [-2, 0, 2, 4], 0.5),
    ("<i>Y</i> [lbf]", [-1.48, 1.87], [-1, 0, 1], 0.2),
    ("<i>Z</i> [lbf]", [-70.8, -53.0], [-65, -60, -55], 1),
    ("<i>L</i> [ft-lbf]", [-10.0, 10.2], [-5, 0, 5], 1),
    ("<i>M</i> [ft-lbf]", [-12.7, 13.1], [-10, 0, 10], 2),
    ("<i>N</i> [ft-lbf]", [-9.8, 9.2], [-5, 0, 5], 1),
    ("<i>u</i> [ft/s]", [-5.3, 58.8], [0, 20, 40], 4),
    ("<i>δ<sub>w</sub></i> [deg]", [9.8, 89.0], [20, 40, 60, 80], 4),
]

for r, (title, rng, tv, mdt) in enumerate(panels, start=1):
    fig.update_yaxes(
        row=r, col=1, range=rng, tickmode="array", tickvals=tv,
        ticktext=[str(v) for v in tv],
        ticks="inside", ticklen=11, tickwidth=1.2, tickcolor=AX, mirror="allticks",
        showline=True, linecolor=AX, linewidth=1.3,
        showgrid=True, gridcolor=GRID, gridwidth=1, zeroline=False,
        minor=dict(tickmode="linear", tick0=0, dtick=mdt, showgrid=True,
                   gridcolor=MINOR, griddash=MINOR_DASH, gridwidth=1, ticks=""),
        tickfont=dict(family=FONT, size=24, color=AX),
        title=dict(text=title, font=dict(family=FONT, size=27, color=AX), standoff=5),
    )

fig.update_xaxes(
    range=[0, 420], tickmode="array", tickvals=[0, 50, 100, 150, 200, 250, 300, 350, 400],
    ticks="inside", ticklen=11, tickwidth=1.2, tickcolor=AX, mirror="allticks",
    showline=True, linecolor=AX, linewidth=1.3,
    showgrid=True, gridcolor=GRID, gridwidth=1, zeroline=False,
    minor=dict(tickmode="linear", tick0=0, dtick=10, showgrid=True,
               gridcolor=MINOR, griddash=MINOR_DASH, gridwidth=1, ticks=""),
    tickfont=dict(family=FONT, size=24, color=AX),
)
fig.update_xaxes(row=8, col=1,
                 title=dict(text="<i>t</i> [s]", font=dict(family=FONT, size=27, color=AX),
                            standoff=4))

fig.update_layout(
    width=1252, height=1057,
    margin=dict(l=85, r=2, t=49, b=70, autoexpand=False),
    paper_bgcolor="white", plot_bgcolor="white",
    font=dict(family=FONT, size=24, color=AX),
    legend=dict(orientation="h", x=0.478, xanchor="center", y=1.0501, yanchor="top",
                bordercolor=AX, borderwidth=1, bgcolor="white", itemwidth=75,
                font=dict(family=FONT, size=24, color=AX), traceorder="normal"),
    legend2=dict(x=0.879, xanchor="left", y=0.1144, yanchor="top",
                 bordercolor=AX, borderwidth=1, bgcolor="white", itemwidth=70,
                 font=dict(family=FONT, size=24, color=AX)),
)

fig.write_html("out.html")
